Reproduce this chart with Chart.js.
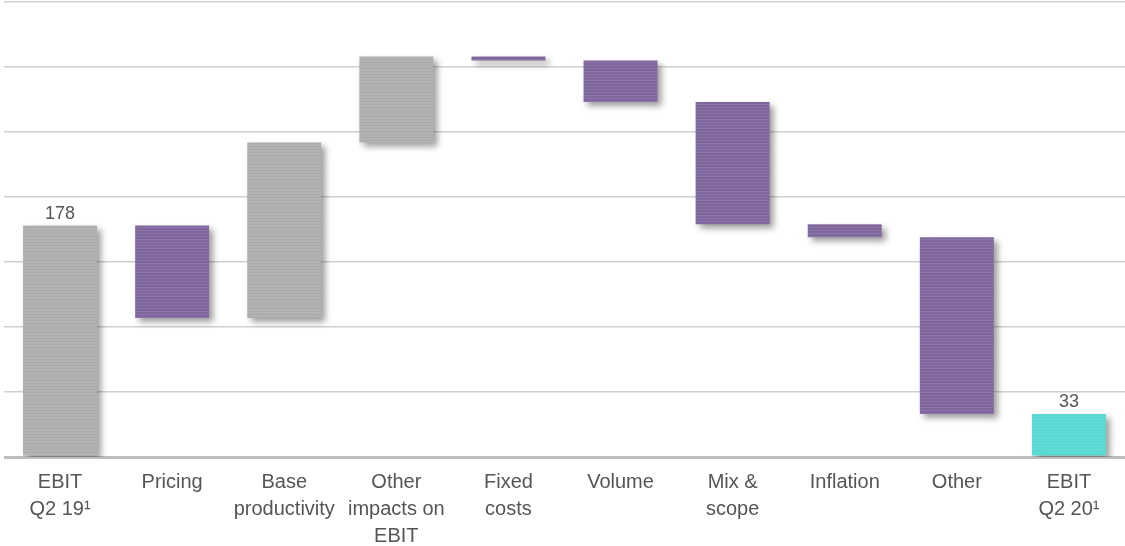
<!DOCTYPE html>
<html>
<head>
<meta charset="utf-8">
<script src="https://cdn.jsdelivr.net/npm/chart.js@4/dist/chart.umd.min.js"></script>
<style>
  html, body { margin: 0; padding: 0; background: #fff; }
  #wrap { width: 1125px; height: 546px; }
</style>
</head>
<body>
<div id="wrap"><canvas id="bridge"></canvas></div>
<script>
const CATEGORIES = [
  ["EBIT", "Q2 19\u00b9"],
  ["Pricing"],
  ["Base", "productivity"],
  ["Other", "impacts on", "EBIT"],
  ["Fixed", "costs"],
  ["Volume"],
  ["Mix &", "scope"],
  ["Inflation"],
  ["Other"],
  ["EBIT", "Q2 20\u00b9"],
];
// start total, then the steps, then the end total
const START_EBIT = 178;
const STEPS = [-71, 135, 66, -3, -32, -94, -10, -136];
const END_EBIT = 33;
const Y_TICKS = [0, 50, 100, 150, 200, 250, 300, 350];

const GREY = "#b3b3b3";
const PURPLE = "#7f679d";
const TEAL = "#5ad8d4";
const TEXT = "#555555";

function stripes(base, line) {
  const c = document.createElement("canvas");
  c.width = 4;
  c.height = 3;
  const g = c.getContext("2d");
  g.fillStyle = base;
  g.fillRect(0, 0, 4, 3);
  g.fillStyle = line;
  g.fillRect(0, 2, 4, 1);
  return g.createPattern(c, "repeat");
}

const greyFill = stripes(GREY, "#a9a9a9");
const purpleFill = stripes(PURPLE, "#8a74a8");
const tealFill = stripes(TEAL, "#62dcd8");

// floating ranges for the bridge
const ranges = [[0, START_EBIT]];
const fills = [greyFill];
let run = START_EBIT;
STEPS.forEach((d) => {
  ranges.push([Math.min(run, run + d), Math.max(run, run + d)]);
  fills.push(d >= 0 ? greyFill : purpleFill);
  run += d;
});
ranges.push([0, END_EBIT]);
fills.push(tealFill);

const totalLabels = { 0: String(START_EBIT), 9: String(END_EBIT) };

const barShadow = {
  id: "barShadow",
  beforeDatasetsDraw(chart) {
    const ctx = chart.ctx;
    ctx.save();
    ctx.shadowColor = "rgba(0,0,0,0.38)";
    ctx.shadowBlur = 6;
    ctx.shadowOffsetX = 4;
    ctx.shadowOffsetY = 4;
  },
  afterDatasetsDraw(chart) {
    chart.ctx.restore();
  },
};

const totalsText = {
  id: "totalsText",
  afterDatasetsDraw(chart) {
    const ctx = chart.ctx;
    const meta = chart.getDatasetMeta(0);
    ctx.save();
    ctx.font = "18px 'Liberation Sans', Arial, sans-serif";
    ctx.fillStyle = TEXT;
    ctx.textAlign = "center";
    ctx.textBaseline = "bottom";
    Object.keys(totalLabels).forEach((i) => {
      const bar = meta.data[i];
      ctx.fillText(totalLabels[i], bar.x, bar.y - 3);
    });
    ctx.restore();
  },
};

new Chart(document.getElementById("bridge"), {
  type: "bar",
  data: {
    labels: CATEGORIES,
    datasets: [
      {
        data: ranges,
        backgroundColor: fills,
        borderWidth: 0,
        borderSkipped: false,
        barPercentage: 0.66,
        categoryPercentage: 1,
      },
    ],
  },
  options: {
    responsive: true,
    maintainAspectRatio: false,
    animation: false,
    layout: { padding: { top: 2, right: 0, left: 0, bottom: 0 } },
    plugins: {
      legend: { display: false },
      tooltip: { enabled: false },
    },
    scales: {
      x: {
        grid: { display: false },
        border: { display: false },
        ticks: {
          color: TEXT,
          font: { family: "'Liberation Sans', Arial, sans-serif", size: 20, lineHeight: 1.35 },
          padding: 4,
          maxRotation: 0,
          autoSkip: false,
        },
        afterFit(s) { s.height = 89; },
      },
      y: {
        min: 0,
        max: 350,
        afterBuildTicks(s) { s.ticks = Y_TICKS.map((v) => ({ value: v })); },
        ticks: { display: false },
        border: { display: false },
        grid: {
          color: (c) => (c.tick && c.tick.value === 0 ? "#bdbdbd" : "#d0d0d0"),
          lineWidth: (c) => (c.tick && c.tick.value === 0 ? 3 : 1.5),
          drawTicks: false,
        },
        afterFit(s) { s.width = 4; },
      },
    },
  },
  plugins: [barShadow, totalsText],
});
</script>
</body>
</html>
